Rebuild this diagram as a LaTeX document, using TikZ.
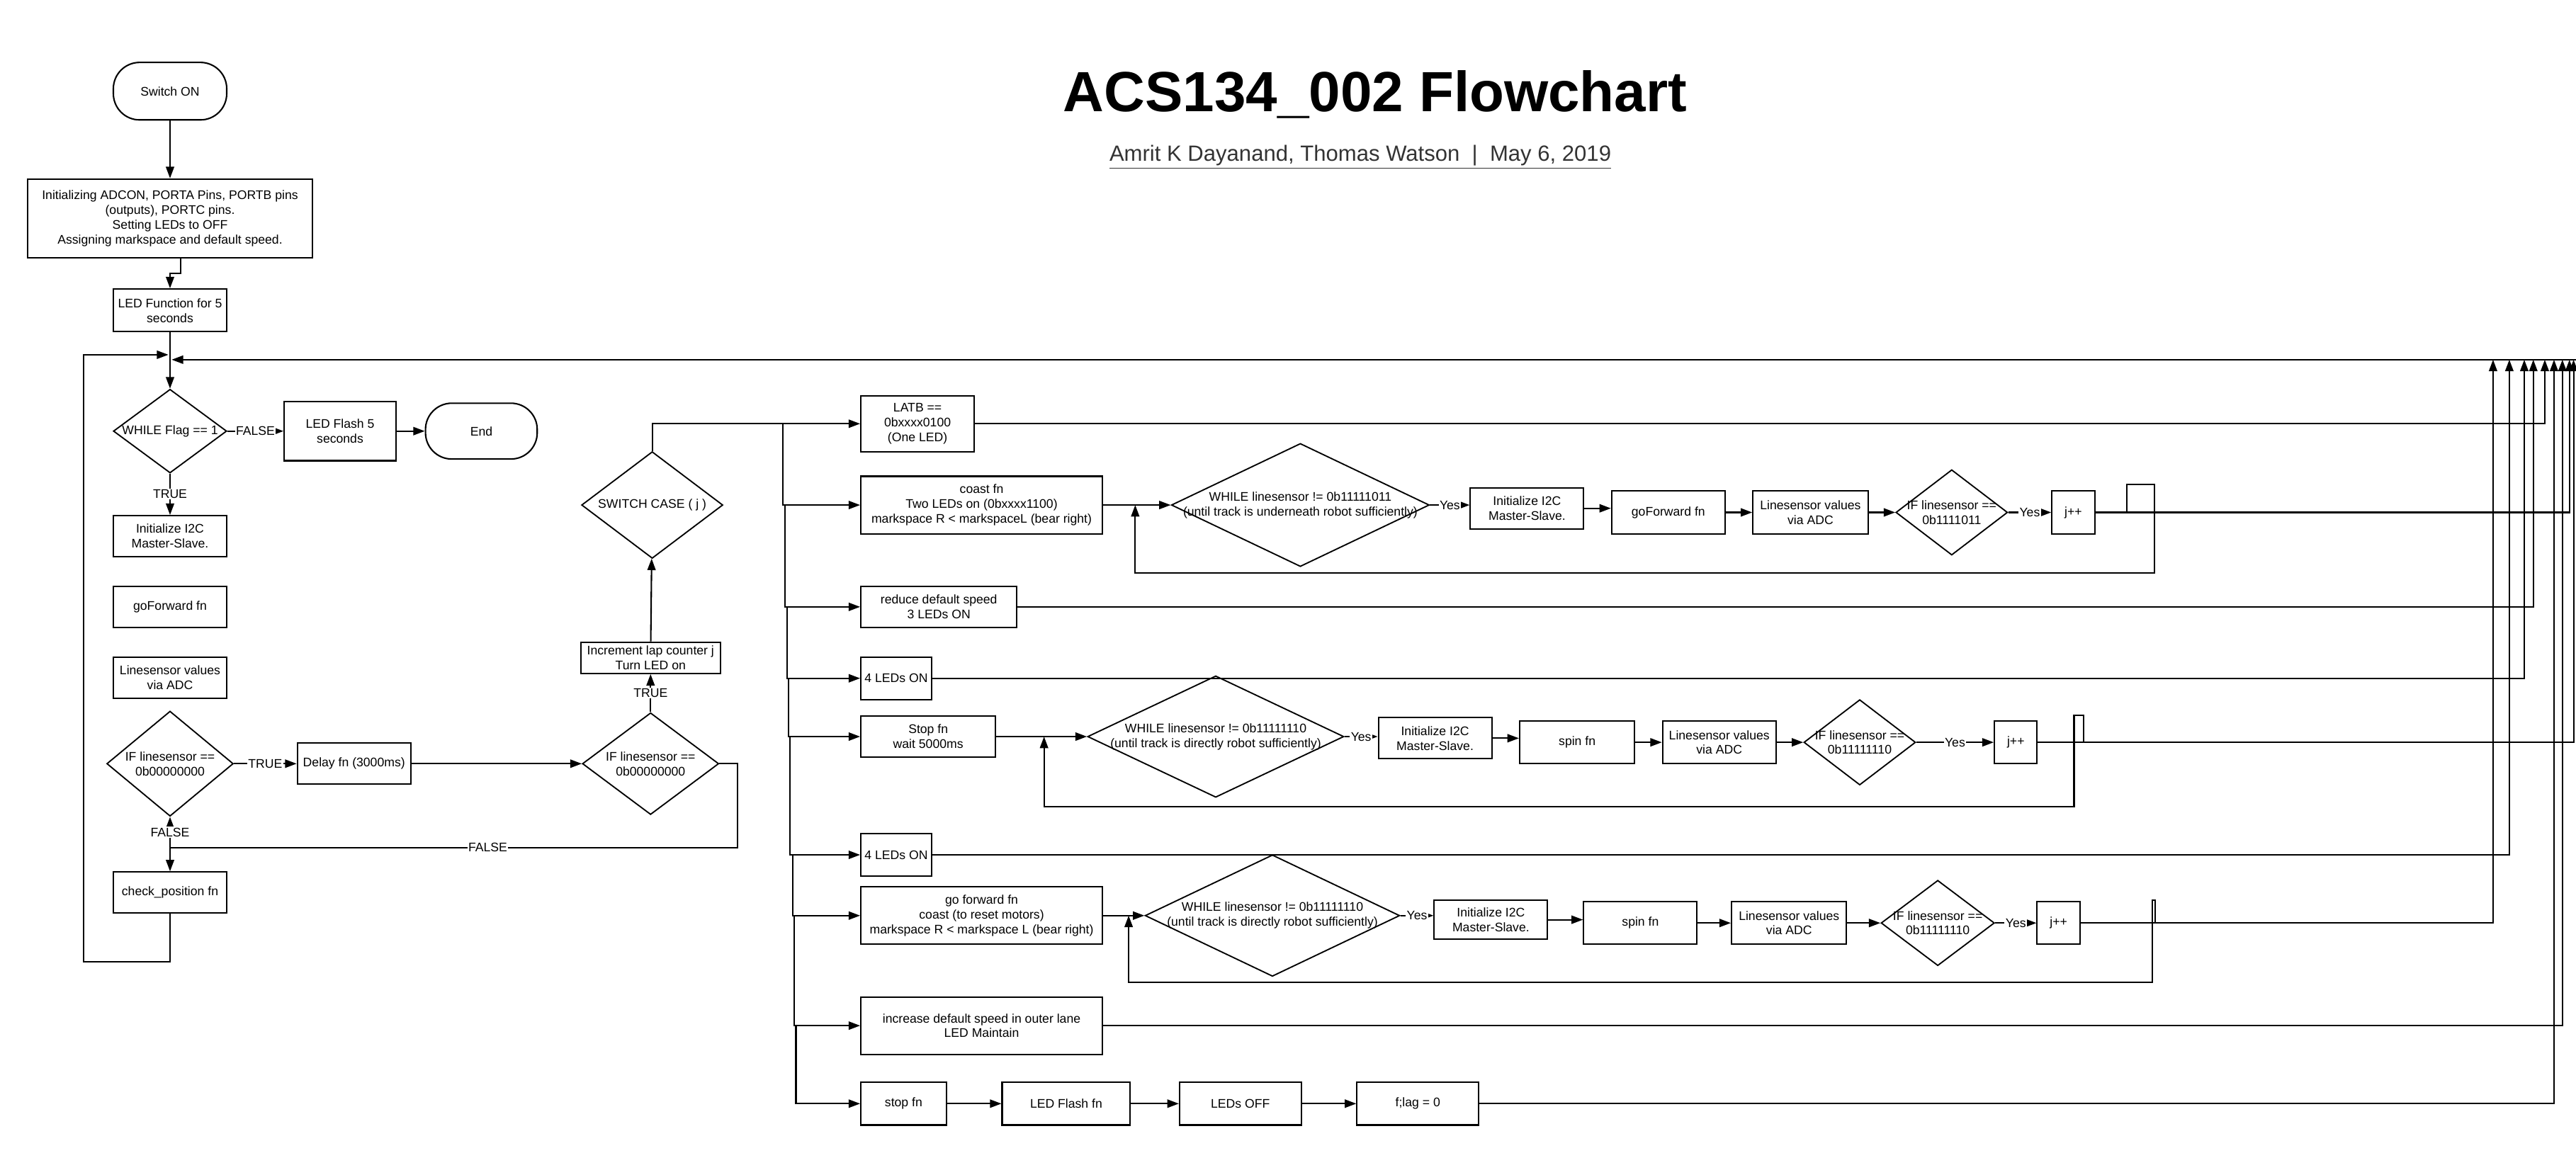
\documentclass[tikz,border=0pt]{standalone}
\usepackage{fontspec}
\setmainfont{Liberation Sans}
\usetikzlibrary{arrows.meta,shapes.geometric}

\begin{document}
\begin{tikzpicture}[x=1pt,y=-1pt,
  font=\fontsize{7.6}{9}\selectfont,
  line width=0.9pt,
  arr/.style={-{Triangle[length=7pt,width=5pt]}},
  box/.style 2 args={draw, align=center, inner sep=1pt,
    minimum width=#1pt, minimum height=#2pt},
  term/.style 2 args={box={#1}{#2}, rounded corners=16pt},
  dec/.style n args={3}{diamond, draw, line width=0.8pt, inner sep=0pt,
    minimum width=#1pt, minimum height=#2pt,
    label={[align=center]center:#3}},
  lbl/.style={fill=white, inner sep=0.6pt}]

  \useasboundingbox (0,0) rectangle (1568,702);

  % Heading
  \node[anchor=base, font=\fontsize{34.5}{40}\bfseries\selectfont] (title) at (837,68) {ACS134\_002 Flowchart};
  \node[anchor=base, font=\fontsize{13.4}{16}\selectfont, text=black!80] (sub) at (828,98)
    {\underline{Amrit K Dayanand, Thomas Watson\ \ |\ \ May 6, 2019}};

  % Main column
  \node[term={69}{35}] (start) at (103.5,55.5) {Switch ON};
  \node[box={173}{48}] (init) at (103.5,133) {Initializing ADCON, PORTA Pins, PORTB pins\\(outputs), PORTC pins.\\Setting LEDs to OFF\\Assigning markspace and default speed.};
  \node[box={69}{26}] (ledfn) at (103.5,189) {LED Function for 5\\seconds};
  \node[dec={69}{51}{WHILE Flag == 1}] (wflag) at (103.5,262.5) {};
  \node[box={68}{36}] (flash) at (207,262.5) {LED Flash 5\\seconds};
  \node[term={68}{34}] (end) at (293,262.5) {End};
  \node[box={69}{25}] (i2c) at (103.5,326.5) {Initialize I2C\\Master-Slave.};
  \node[box={69}{25}] (gof) at (103.5,369.5) {goForward fn};
  \node[box={69}{25}] (adc) at (103.5,412.5) {Linesensor values\\via ADC};
  \node[dec={77}{64}{IF linesensor ==\\0b00000000}] (ifa) at (103.5,465) {};
  \node[box={69}{25}] (delay) at (215.5,465) {Delay fn (3000ms)};
  \node[dec={83}{62}{IF linesensor ==\\0b00000000}] (ifb) at (396,465) {};
  \node[box={85}{19}] (lap) at (396,400.5) {Increment lap counter j\\Turn LED on};
  \node[dec={86}{65}{SWITCH CASE ( j )}] (sw) at (397,307.5) {};
  \node[box={69}{25}] (chk) at (103.5,543.5) {check\_position fn};

  % Switch cases
  \node[box={69}{34}] (latb) at (558.5,258) {LATB ==\\0bxxxx0100\\(One LED)};
  \node[box={147}{35}] (coast) at (597.5,307.5) {coast fn\\Two LEDs on (0bxxxx1100)\\markspace R < markspaceL (bear right)};
  \node[box={95}{25}] (slow) at (571.5,369.5) {reduce default speed\\3 LEDs ON};
  \node[box={43}{26}] (four) at (545.5,413) {4 LEDs ON};
  \node[box={82}{25}] (stop) at (565,448.5) {Stop fn\\wait 5000ms};
  \node[box={43}{26}] (fourb) at (545.5,520.5) {4 LEDs ON};
  \node[box={147}{35}] (gofw) at (597.5,557.5) {go forward fn\\coast (to reset motors)\\markspace R < markspace L (bear right)};
  \node[box={147}{35}] (fast) at (597.5,624.5) {increase default speed in outer lane\\LED Maintain};
  \node[box={52}{26}] (halt) at (550,672) {stop fn};
  \node[box={78}{26}] (flashb) at (649,672) {LED Flash fn};
  \node[box={74}{26}] (off) at (755,672) {LEDs OFF};
  \node[box={74}{26}] (flag) at (863,672) {f;lag = 0};

  % Case 2 loop
  \node[dec={157}{75}{WHILE linesensor != 0b11111011\\(until track is underneath robot sufficiently)}] (wa) at (791.5,307.5) {};
  \node[box={69}{25}] (i2ca) at (929.5,309.5) {Initialize I2C\\Master-Slave.};
  \node[box={69}{26}] (gofa) at (1015.5,312) {goForward fn};
  \node[box={70}{26}] (adca) at (1102,312) {Linesensor values\\via ADC};
  \node[dec={68}{52}{IF linesensor ==\\0b1111011}] (ifc) at (1188,312) {};
  \node[box={26}{26}] (inca) at (1262,312) {j++};

  % Case 5 loop
  \node[dec={156}{74}{WHILE linesensor != 0b11111110\\(until track is directly robot sufficiently)}] (wb) at (740,448.5) {};
  \node[box={69}{25}] (i2cb) at (873.5,449.5) {Initialize I2C\\Master-Slave.};
  \node[box={70}{26}] (spinb) at (960,452) {spin fn};
  \node[box={69}{26}] (adcb) at (1046.5,452) {Linesensor values\\via ADC};
  \node[dec={68}{52}{IF linesensor ==\\0b11111110}] (ifd) at (1132,452) {};
  \node[box={26}{26}] (incb) at (1227,452) {j++};

  % Case 7 loop
  \node[dec={155}{74}{WHILE linesensor != 0b11111110\\(until track is directly robot sufficiently)}] (wc) at (774.5,557.5) {};
  \node[box={69}{24}] (i2cc) at (907.5,560) {Initialize I2C\\Master-Slave.};
  \node[box={69}{26}] (spinc) at (998.5,562) {spin fn};
  \node[box={70}{26}] (adcc) at (1089,562) {Linesensor values\\via ADC};
  \node[dec={69}{52}{IF linesensor ==\\0b11111110}] (ife) at (1179.5,562) {};
  \node[box={26}{26}] (incc) at (1253,562) {j++};

  % Corners for the return paths
  \coordinate (jl) at (102.5,216);
  \coordinate (jr) at (104.5,219);
  \coordinate (ret) at (1568,219);
  \coordinate (fj) at (103.5,516);
  \coordinate (la) at (691,349);
  \coordinate (lb) at (635.5,491);
  \coordinate (lc) at (687,598);

  % Main column arrows
  \draw[arr] (start) -- (init);
  \draw[arr] ([xshift=6.5pt]init.south) -- ++(0,9) -| (ledfn);
  \draw[arr] (ledfn) -- (wflag);
  \draw[arr] (chk.south) -- ++(0,29) -| (51,216) -- (jl);
  \draw[arr] (ret) -- (jr);
  \draw[arr] (wflag.east) -- node[lbl] {FALSE} (flash.west);
  \draw[arr] (flash) -- (end);
  \draw[arr] (wflag) -- node[lbl] {TRUE} (i2c);
  \draw[arr] (ifa) -- node[lbl] {TRUE} (delay);
  \draw[arr] (delay) -- (ifb);
  \draw[arr] (ifb) -- node[lbl] {TRUE} (lap);
  \draw[arr] (lap) -- (sw);
  \draw[arr] (ifb.east) -- ++(11,0) |- node[lbl, pos=0.72] {FALSE} (fj) -- (chk);
  \draw[arr] (fj) -- node[lbl] {FALSE} (ifa);

  % Switch branches
  \draw[arr] (sw.north) |- (latb.west);
  \foreach \p/\q/\bx in {latb/coast/476.5, coast/slow/477.7, slow/four/479,
      four/stop/480, stop/fourb/481, fourb/gofw/482.5, gofw/fast/483.5, fast/halt/484.5}
    \draw[arr] (\p.west -| \bx,0) |- (\q.west);

  % Back to the WHILE loop
  \foreach \s/\x in {latb/1549, inca/1564, slow/1542, four/1536.5, incb/1566.5,
      fourb/1527.4, incc/1517.5, fast/1559.7, flag/1554.6}
    {\coordinate (t\s) at (\x,219);
     \draw[arr] (\s.east) -| (t\s);}

  % Case 2
  \draw[arr] (coast) -- (wa);
  \draw[arr] (wa.east) -- node[lbl] {Yes} (wa.east -| i2ca.west);
  \draw[arr] (i2ca.east) -- (i2ca.east -| gofa.west);
  \draw[arr] (gofa) -- (adca);
  \draw[arr] (adca) -- (ifc);
  \draw[arr] (ifc.east) -- node[lbl] {Yes} (inca.west);
  \draw[arr] (inca.east) -- ++(19,0) |- ++(17,-17) |- (la) -- (la |- coast.east);

  % Case 5
  \draw[arr] (stop) -- (wb);
  \draw[arr] (wb.east) -- node[lbl] {Yes} (wb.east -| i2cb.west);
  \draw[arr] (i2cb.east) -- (i2cb.east -| spinb.west);
  \draw[arr] (spinb) -- (adcb);
  \draw[arr] (adcb) -- (ifd);
  \draw[arr] (ifd.east) -- node[lbl] {Yes} (incb.west);
  \draw[arr] (incb.east) -- ++(28,0) |- ++(-6,-16.5) |- (lb) -- (lb |- stop.east);

  % Case 7
  \draw[arr] (gofw) -- (wc);
  \draw[arr] (wc.east) -- node[lbl] {Yes} (wc.east -| i2cc.west);
  \draw[arr] (i2cc.east) -- (i2cc.east -| spinc.west);
  \draw[arr] (spinc) -- (adcc);
  \draw[arr] (adcc) -- (ife);
  \draw[arr] (ife.east) -- node[lbl] {Yes} (incc.west);
  \draw[arr] (incc.east) -- ++(45.4,0) |- ++(-1.9,-14) |- (lc) -- (lc |- gofw.east);

  % Case 9
  \draw[arr] (halt) -- (flashb);
  \draw[arr] (flashb) -- (off);
  \draw[arr] (off) -- (flag);
\end{tikzpicture}
\end{document}
